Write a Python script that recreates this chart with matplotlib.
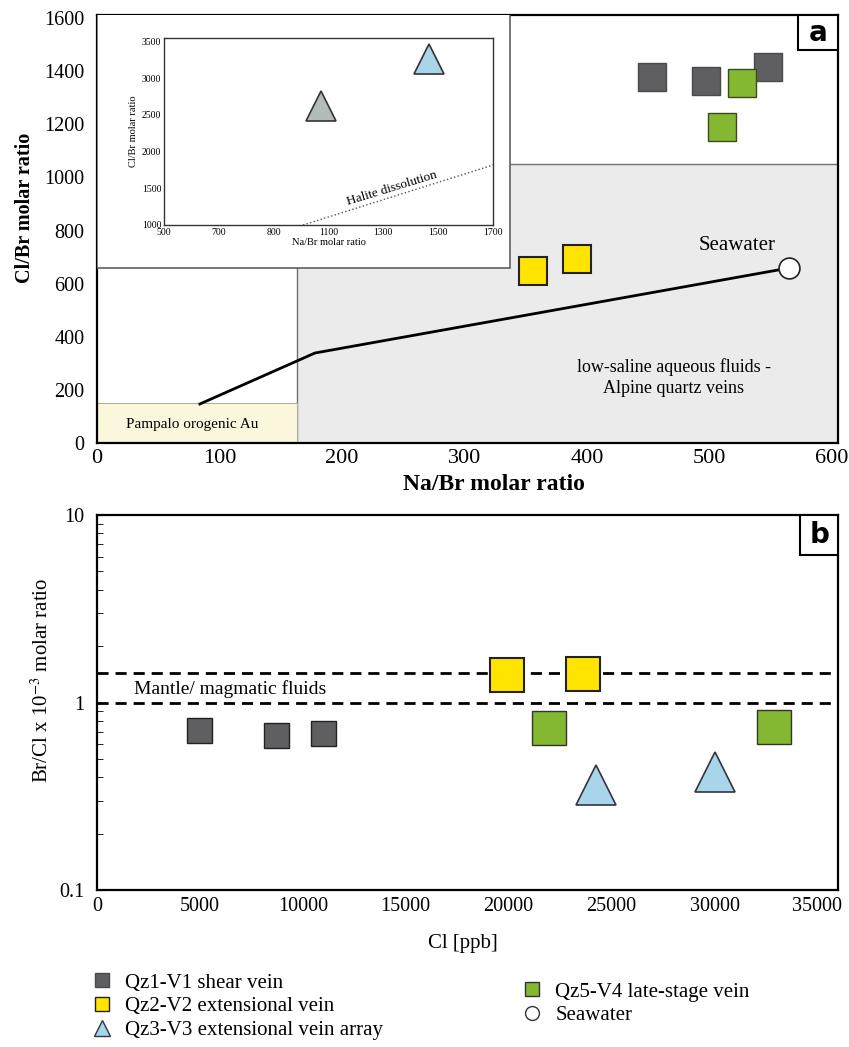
import matplotlib
matplotlib.use('Agg')
import matplotlib.pyplot as plt
from matplotlib.patches import Rectangle
from matplotlib.lines import Line2D

plt.rcParams['font.family'] = ['Liberation Serif', 'DejaVu Serif']
plt.rcParams['mathtext.fontset'] = 'stix'

# ---------------- data: panel a (Na/Br vs Cl/Br) ----------------
a_v1_na = [453, 497, 548]
a_v1_cl = [1378, 1363, 1416]
a_v2_na = [356, 392]
a_v2_cl = [648, 693]
a_v4_na = [527, 510]
a_v4_cl = [1355, 1190]
seawater_na = [565]
seawater_cl = [659]
trend_na = [84, 178, 565]
trend_cl = [147, 339, 659]
a_xticks = [0, 100, 200, 300, 400, 500, 600]
a_yticks = [0, 200, 400, 600, 800, 1000, 1200, 1400, 1600]

# inset
inset_v3_na = [1073, 1467]
inset_v3_cl = [2616, 3264]
inset_v3_colors = ['#b3bcb8', '#a9d5ea']
halite_na = [1007, 1700]
halite_cl = [1000, 1818]
inset_xticks = [500, 700, 900, 1100, 1300, 1500, 1700]
inset_xticklabels = ['500', '700', '800', '1100', '1300', '1500', '1700']
inset_yticks = [1000, 1500, 2000, 2500, 3000, 3500]

# ---------------- data: panel b (Cl vs Br/Cl) ----------------
b_v1_cl = [4950, 8700, 10980]
b_v1_r = [0.71, 0.67, 0.69]
b_v2_cl = [19900, 23600]
b_v2_r = [1.40, 1.42]
b_v3_cl = [24240, 30020]
b_v3_r = [0.363, 0.424]
b_v4_cl = [21960, 32890]
b_v4_r = [0.73, 0.74]
mantle_lines = [1.0, 1.43]
b_xticks = [0, 5000, 10000, 15000, 20000, 25000, 30000, 35000]

labels = ['Qz1-V1 shear vein', 'Qz2-V2 extensional vein',
          'Qz3-V3 extensional vein array', 'Qz5-V4 late-stage vein', 'Seawater']

# colours
GRAY, GRAY_E = '#5f5f61', '#4a4a4c'
YEL, GREEN, BLUE = '#ffe400', '#84b830', '#a9d5ea'

W, H = 849, 1047
def fr(l, t, r, b):
    return [l / W, 1 - b / H, (r - l) / W, (b - t) / H]

fig = plt.figure(figsize=(W / 100, H / 100), dpi=100)

# ================= panel a =================
axA = fig.add_axes(fr(97, 15, 838, 443))
axA.set_xlim(0, 605)
axA.set_ylim(0, 1612)
for s in axA.spines.values():
    s.set_linewidth(1.6)
axA.tick_params(axis='both', length=0)
axA.set_xticks(a_xticks)
axA.set_yticks(a_yticks)
axA.tick_params(axis='x', labelsize=16, pad=4)
axA.tick_params(axis='y', labelsize=14.5, pad=9)

# shaded regions
axA.add_patch(Rectangle((163, 0), 445, 1050, facecolor='#ebebeb',
                        edgecolor='#707070', lw=1.0, zorder=1))
axA.add_patch(Rectangle((0, 0), 163, 150, facecolor='#fbf7dc',
                        edgecolor='#b0b0a0', lw=0.8, zorder=1))
# inset white panel
axA.add_patch(Rectangle((0, 660), 337, 960, facecolor='white',
                        edgecolor='#606060', lw=1.2, zorder=3))

axA.plot(trend_na, trend_cl, color='black', lw=2, zorder=4)
axA.plot(a_v1_na, a_v1_cl, 's', ms=19.5, mfc=GRAY, mec=GRAY_E, mew=1, zorder=5)
axA.plot(a_v4_na, a_v4_cl, 's', ms=20, mfc=GREEN, mec='#3c4a20', mew=1, zorder=5)
axA.plot(a_v2_na, a_v2_cl, 's', ms=19.5, mfc=YEL, mec='#222', mew=1.5, zorder=5)
axA.plot(seawater_na, seawater_cl, 'o', ms=15, mfc='white', mec='#222', mew=1.2, zorder=6)

axA.text(523, 745, 'Seawater', fontsize=15, ha='center', va='center', zorder=6)
axA.text(471, 245, 'low-saline aqueous fluids -\nAlpine quartz veins', fontsize=13,
         ha='center', va='center', linespacing=1.3, zorder=6)
axA.text(78, 68, 'Pampalo orogenic Au', fontsize=11, ha='center', va='center', zorder=6)

axA.set_xlabel('Na/Br molar ratio', fontsize=17, fontweight='bold')
axA.xaxis.set_label_coords(0.536, -0.072)
axA.set_ylabel('Cl/Br molar ratio', fontsize=14.5, fontweight='bold')
axA.yaxis.set_label_coords(-0.084, 0.549)

# label box a
axA.add_patch(Rectangle((0.946, 0.918), 0.054, 0.082, transform=axA.transAxes,
                        facecolor='white', edgecolor='black', lw=1.5, zorder=7))
axA.text(0.973, 0.959, 'a', transform=axA.transAxes, fontsize=20, fontweight='bold',
         family='DejaVu Sans', ha='center', va='center', zorder=8)

# ================= inset =================
axI = fig.add_axes(fr(164, 38, 493, 225))
axI.set_xlim(500, 1700)
axI.set_ylim(1000, 3550)
for s in axI.spines.values():
    s.set_linewidth(1.0)
    s.set_color('#333')
axI.tick_params(axis='both', length=0, labelsize=7, pad=2)
axI.set_xticks(inset_xticks)
axI.set_xticklabels(inset_xticklabels)
axI.set_yticks(inset_yticks)
axI.plot(halite_na, halite_cl, ':', color='#555', lw=1.0)
for x, y, c in zip(inset_v3_na, inset_v3_cl, inset_v3_colors):
    axI.plot([x], [y], '^', ms=21, mfc=c, mec='#333', mew=1.2)
axI.text(1330, 1500, 'Halite dissolution', fontsize=9.5, rotation=17,
         ha='center', va='center', rotation_mode='anchor')
axI.set_xlabel('Na/Br molar ratio', fontsize=7.5, labelpad=1)
axI.set_ylabel('Cl/Br molar ratio', fontsize=7.5, labelpad=3)

# ================= panel b =================
axB = fig.add_axes(fr(97, 515, 838, 890))
axB.set_yscale('log')
axB.set_xlim(0, 36000)
axB.set_ylim(0.1, 10)
for s in axB.spines.values():
    s.set_linewidth(1.6)
axB.set_xticks(b_xticks)
axB.set_yticks([0.1, 1, 10])
axB.set_yticklabels(['0.1', '1', '10'])
axB.tick_params(axis='x', length=0, labelsize=14.5, pad=5)
axB.tick_params(axis='y', which='major', direction='in', length=6, labelsize=14.5, pad=9)
axB.tick_params(axis='y', which='minor', direction='in', length=4, labelleft=False)

for yv in mantle_lines:
    axB.axhline(yv, color='black', lw=2, ls=(0, (4, 2.5)), zorder=2)
axB.text(1800, 1.18, 'Mantle/ magmatic fluids', fontsize=14, ha='left', va='center')

axB.plot(b_v1_cl, b_v1_r, 's', ms=18, mfc=GRAY, mec='#222', mew=1, zorder=5)
axB.plot(b_v2_cl, b_v2_r, 's', ms=25, mfc=YEL, mec='#222', mew=1.5, zorder=5)
axB.plot(b_v4_cl, b_v4_r, 's', ms=25, mfc=GREEN, mec='#333', mew=1, zorder=5)
axB.plot(b_v3_cl, b_v3_r, '^', ms=29, mfc=BLUE, mec='#334', mew=1.2, zorder=5)

axB.set_xlabel('Cl [ppb]', fontsize=15)
axB.xaxis.set_label_coords(0.494, -0.118)
axB.set_ylabel('Br/Cl x 10$^{-3}$ molar ratio', fontsize=15)
axB.yaxis.set_label_coords(-0.06, 0.56)

axB.add_patch(Rectangle((0.949, 0.893), 0.051, 0.107, transform=axB.transAxes,
                        facecolor='white', edgecolor='black', lw=1.5, zorder=7))
axB.text(0.9745, 0.946, 'b', transform=axB.transAxes, fontsize=20, fontweight='bold',
         family='DejaVu Sans', ha='center', va='center', zorder=8)

# ================= legend =================
h1 = Line2D([], [], marker='s', ls='', ms=10, mfc=GRAY, mec=GRAY_E)
h2 = Line2D([], [], marker='s', ls='', ms=10, mfc=YEL, mec='#222')
h3 = Line2D([], [], marker='^', ls='', ms=12, mfc=BLUE, mec='#334')
h4 = Line2D([], [], marker='s', ls='', ms=10, mfc=GREEN, mec='#333')
h5 = Line2D([], [], marker='o', ls='', ms=10, mfc='white', mec='#333')

fig.legend([h1, h2, h3], labels[:3], loc='upper left',
           bbox_to_anchor=(92 / W, 1 - 973 / H), frameon=False, fontsize=15,
           borderpad=0, borderaxespad=0, handlelength=1.0, handletextpad=0.6,
           labelspacing=0.2)
fig.legend([h4, h5], labels[3:], loc='upper left',
           bbox_to_anchor=(522 / W, 1 - 982 / H), frameon=False, fontsize=15,
           borderpad=0, borderaxespad=0, handlelength=1.0, handletextpad=0.6,
           labelspacing=0.2)

fig.savefig('out.png', dpi=100)
